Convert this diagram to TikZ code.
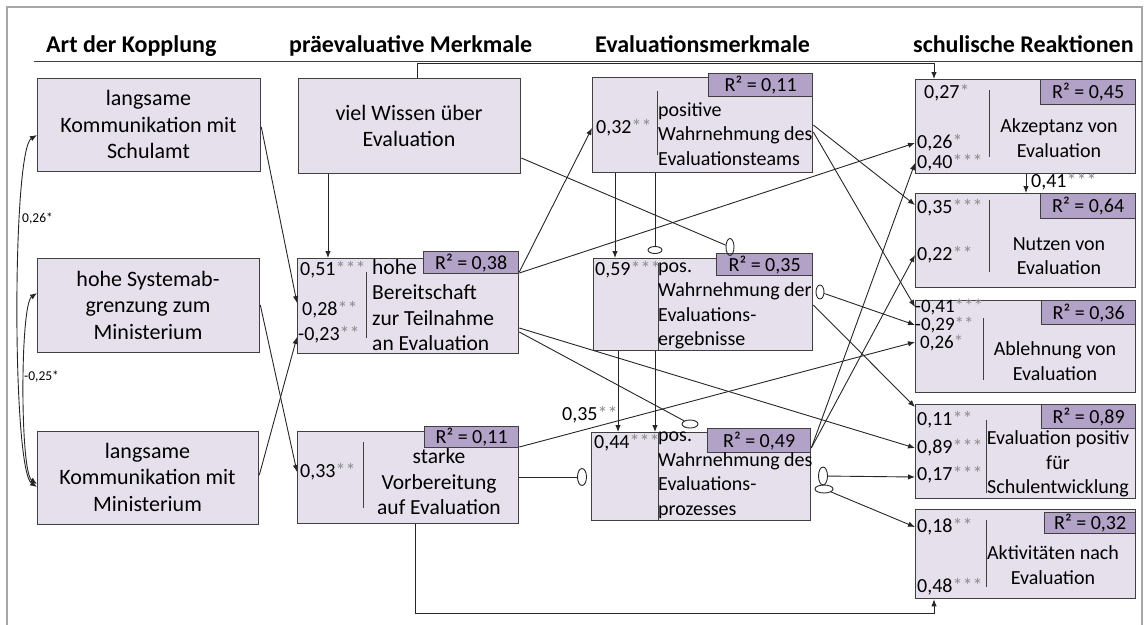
\documentclass[tikz,border=0pt]{standalone}
\usepackage{fontspec}
\setmainfont{Carlito}
\usetikzlibrary{arrows.meta,shapes.geometric}
\definecolor{boxfill}{HTML}{E5E0EC}
\definecolor{rfill}{HTML}{B3A2C7}
\definecolor{boxline}{HTML}{404040}
\definecolor{stargray}{HTML}{8C8C8C}
\definecolor{framegray}{HTML}{A6A6A6}
% coefficient with grey significance stars
\newcommand\coef[2]{#1\textcolor{stargray}{#2}}

\begin{document}
\begin{tikzpicture}[x=1pt,y=-1pt,
  box/.style={draw=boxline, fill=boxfill, line width=1.3pt, inner sep=0pt, anchor=north west},
  rbox/.style={draw=boxline, fill=rfill, line width=1.3pt, inner sep=0pt, anchor=north west,
    font=\fontsize{20}{22}\selectfont},
  head/.style={anchor=base west, inner sep=0pt, font=\bfseries\fontsize{24}{28}\selectfont},
  bigtxt/.style={inner sep=0pt, align=center, font=\fontsize{22}{26.5}\selectfont},
  midtxt/.style={inner sep=0pt, font=\fontsize{21.5}{25.4}\selectfont},
  txt/.style={inner sep=0pt, font=\fontsize{20}{24.5}\selectfont},
  coefs/.style={anchor=west, inner sep=0pt, font=\fontsize{20}{24}\selectfont},
  tight/.style={anchor=west, inner sep=0pt, font=\fontsize{19}{22}\selectfont},
  small/.style={anchor=west, inner sep=0pt, font=\fontsize{13.5}{15}\selectfont},
  divider/.style={draw=boxline, line width=1pt},
  conn/.style={draw=black!85, line width=0.9pt},
  arr/.style={conn, -{Latex[length=7pt,width=5.5pt]}},
  biarr/.style={conn, {Latex[length=7pt,width=5.5pt]}-{Latex[length=7pt,width=5.5pt]}},
  oval/.style={ellipse, draw=black!85, line width=0.9pt, inner sep=0pt}
]
\useasboundingbox (0,0) rectangle (1146,624);

% outer frame and header rule
\draw[framegray, line width=1.5pt] (7,630) -- (7,7) -- (1142,7) -- (1142,630);
\draw[boxline, line width=1pt] (34,61) -- (1142,61);

% column headings
\node[head] (h1) at (46,52) {Art der Kopplung};
\node[head] (h2) at (289,52) {präevaluative Merkmale};
\node[head] (h3) at (595,52) {Evaluationsmerkmale};
\node[head] (h4) at (913,52) {schulische Reaktionen};

% ---- boxes ----
\node[box, minimum width=223pt, minimum height=93pt] (A1) at (37,78) {};
\node[box, minimum width=222pt, minimum height=94pt] (A2) at (37,258) {};
\node[box, minimum width=221pt, minimum height=93pt] (A3) at (37,431) {};
\node[box, minimum width=222pt, minimum height=95pt] (B0) at (298,78) {};
\node[box, minimum width=221pt, minimum height=95pt] (B1) at (297,258) {};
\node[box, minimum width=221pt, minimum height=92pt] (B2) at (297,431) {};
\node[box, minimum width=220pt, minimum height=95pt] (C1) at (592,77) {};
\node[box, minimum width=219pt, minimum height=92pt] (C2) at (593,258) {};
\node[box, minimum width=219pt, minimum height=88pt] (C3) at (591,432) {};
\node[box, minimum width=220pt, minimum height=94pt] (D1) at (915,79) {};
\node[box, minimum width=220pt, minimum height=94pt] (D2) at (915,193) {};
\node[box, minimum width=220pt, minimum height=92pt] (D3) at (915,300) {};
\node[box, minimum width=220pt, minimum height=94pt] (D4) at (915,404) {};
\node[box, minimum width=220pt, minimum height=89pt] (D5) at (915,509) {};

% explained variance tags
\node[rbox, minimum width=95pt, minimum height=22pt] (B1r) at (423,251) {R² = 0,38};
\node[rbox, minimum width=94pt, minimum height=21pt] (B2r) at (424,426) {R² = 0,11};
\node[rbox, minimum width=104pt, minimum height=23pt] (C1r) at (708,73) {R² = 0,11};
\node[rbox, minimum width=96pt, minimum height=22pt] (C2r) at (716,253) {R² = 0,35};
\node[rbox, minimum width=103pt, minimum height=24pt] (C3r) at (707,428) {R² = 0,49};
\node[rbox, minimum width=95pt, minimum height=25pt] (D1r) at (1040,79) {R² = 0,45};
\node[rbox, minimum width=95pt, minimum height=25pt] (D2r) at (1040,193) {R² = 0,64};
\node[rbox, minimum width=94pt, minimum height=24pt] (D3r) at (1041,300) {R² = 0,36};
\node[rbox, minimum width=94pt, minimum height=24pt] (D4r) at (1041,404) {R² = 0,89};
\node[rbox, minimum width=91pt, minimum height=21pt] (D5r) at (1044,512) {R² = 0,32};

% dividers between coefficients and labels
\draw[divider] (366,272) -- (366,338);
\draw[divider] (363,442) -- (363,508);
\draw[divider] (657,91) -- (657,155);
\draw[divider] (658,263) -- (658,350);
\draw[divider] (658,433) -- (658,520);
\draw[divider] (989,90) -- (989,157);
\draw[divider] (989,200) -- (989,272);
\draw[divider] (983,318) -- (983,380);
\draw[divider] (986,420) -- (986,493);
\draw[divider] (986,520) -- (986,587);

% ovals marking interaction terms
\node[oval, minimum width=8pt, minimum height=17pt] (e1) at (730,247) {};
\node[oval, minimum width=14pt, minimum height=7pt] (e2) at (655,250) {};
\node[oval, minimum width=16pt, minimum height=8pt] (e3) at (690,424) {};
\node[oval, minimum width=8pt, minimum height=14pt] (e4) at (820,292) {};
\node[oval, minimum width=9pt, minimum height=17pt] (e5) at (582,477) {};
\node[oval, minimum width=9pt, minimum height=18pt] (e6) at (823,476) {};
\node[oval, minimum width=18pt, minimum height=8pt] (e7) at (824,489) {};

% routing points
\coordinate (k1) at (417,63);
\coordinate (k2) at (934,63);
\coordinate (k3) at (415,613);
\coordinate (k4) at (934,613);

% ---- paths ----
\draw[arr] ([xshift=119pt]B0.north west) -- (k1) -- (k2) -- ([xshift=19pt]D1.north west);
\draw[arr] ([xshift=30pt]B0.south west) -- ([xshift=31pt]B1.north west);
\draw[arr] ([yshift=-49pt]A1.north east) -- ([yshift=-45pt]B1.north west);
\draw[arr] ([yshift=-47pt]A2.north east) -- ([yshift=-41pt]B2.north west);
\draw[arr] ([yshift=-44pt]A3.north east) -- ([yshift=-79pt]B1.north west);
\draw[biarr] ([yshift=-57pt]A1.north west) .. controls (12,150) and (12,470) .. ([yshift=-56pt]A3.north west);
\draw[biarr] ([yshift=-35pt]A2.north west) .. controls (20,305) and (20,472) .. ([yshift=-53pt]A3.north west);

\draw[arr] ([yshift=-14pt]B1.north east) -- ([yshift=-51pt]C1.north west);
\draw[arr] ([yshift=-15pt]B1.north east) -- ([yshift=-64pt]D1.north west);
\draw[arr] ([yshift=-70pt]B1.north east) -- ([yshift=-44pt]D4.north west);
\draw[conn] ([yshift=-74pt]B1.north east) -- (e3);
\draw[conn] ([yshift=-80pt]B0.north east) -- (e1);
\draw[arr] ([yshift=-16pt]B2.north east) -- ([yshift=-42pt]D3.north west);
\draw[conn] ([yshift=-46pt]B2.north east) -- (e5);
\draw[arr] ([xshift=118pt]B2.south west) -- (k3) -- (k4) -- ([xshift=19pt]D5.south west);

\draw[arr] ([xshift=23pt]C1.south west) -- ([xshift=22pt]C2.north west);
\draw[conn] ([xshift=63pt]C1.south west) -- (e2);
\draw[arr] ([xshift=25pt]C2.south west) -- ([xshift=27pt]C3.north west);
\draw[arr] ([xshift=62pt]C2.south west) -- ([xshift=64pt]C3.north west);
\draw[arr] ([yshift=-48pt]C1.north east) -- ([yshift=-12pt]D2.north west);
\draw[arr] ([yshift=-55pt]C1.north east) -- ([yshift=-7pt]D3.north west);
\draw[arr] (e4) -- ([yshift=-25pt]D3.north west);
\draw[arr] ([yshift=-47pt]C2.north east) -- ([yshift=-3pt]D4.north west);
\draw[arr] ([yshift=-16pt]C3.north east) -- ([yshift=-84pt]D1.north west);
\draw[arr] ([yshift=-16pt]C3.north east) -- ([yshift=-62pt]D2.north west);
\draw[arr] (e6) -- ([yshift=-73pt]D4.north west);
\draw[arr] (e7) -- ([yshift=-18pt]D5.north west);
\draw[arr] ([xshift=111pt]D1.south west) -- ([xshift=111pt]D2.north west);

% ---- box labels ----
\node[bigtxt] (A1t) at (148.5,124.5) {langsame\\Kommunikation mit\\Schulamt};
\node[bigtxt] (A2t) at (148,305) {hohe Systemab-\\grenzung zum\\Ministerium};
\node[bigtxt] (A3t) at (147.5,477) {langsame\\Kommunikation mit\\Ministerium};
\node[bigtxt] (B0t) at (409,126) {viel Wissen über\\Evaluation};
\node[midtxt, anchor=west, align=left] (B1t) at (372,305) {hohe\\Bereitschaft\\zur Teilnahme\\an Evaluation};
\node[midtxt, align=center] (B2t) at (439,482) {starke\\Vorbereitung\\auf Evaluation};
\node[txt, anchor=west, align=left] (C1t) at (658,134) {positive\\Wahrnehmung des\\Evaluationsteams};
\node[txt, anchor=west, align=left] (C2t) at (658,306) {pos.\\Wahrnehmung der\\Evaluations-\\ergebnisse};
\node[txt, anchor=west, align=left] (C3t) at (658,475) {pos.\\Wahrnehmung des\\Evaluations-\\prozesses};
\node[txt, align=center] (D1t) at (1059,138) {Akzeptanz von\\Evaluation};
\node[txt, align=center] (D2t) at (1059,256) {Nutzen von\\Evaluation};
\node[txt, align=center] (D3t) at (1055,361) {Ablehnung von\\Evaluation};
\node[txt, align=center] (D4t) at (1058,464) {Evaluation positiv\\für\\Schulentwicklung};
\node[txt, align=center] (D5t) at (1053,565) {Aktivitäten nach\\Evaluation};

% ---- path coefficients ----
\node[coefs] (b1a) at (300,270) {\coef{0,51}{***}};
\node[coefs] (b1b) at (302,310) {\coef{0,28}{**}};
\node[coefs] (b1c) at (298,335) {\coef{-0,23}{**}};
\node[coefs] (b2a) at (300,472) {\coef{0,33}{**}};
\node[coefs] (c1a) at (596,128) {\coef{0,32}{**}};
\node[coefs] (c2a) at (595,270) {\coef{0,59}{***}};
\node[coefs] (c3a) at (594,443) {\coef{0,44}{***}};
\node[coefs] (d1a) at (924,93) {\coef{0,27}{*}};
\node[coefs] (d1b) at (917,143) {\coef{0,26}{*}};
\node[coefs] (d1c) at (917,163) {\coef{0,40}{***}};
\node[coefs] (d2a) at (917,208) {\coef{0,35}{***}};
\node[coefs] (d2b) at (917,255) {\coef{0,22}{**}};
\node[tight] (d3a) at (915,307) {\coef{-0,41}{***}};
\node[tight] (d3b) at (915,325) {\coef{-0,29}{**}};
\node[tight] (d3c) at (920,343) {\coef{0,26}{*}};
\node[coefs] (d4a) at (917,420) {\coef{0,11}{**}};
\node[coefs] (d4b) at (917,448) {\coef{0,89}{***}};
\node[coefs] (d4c) at (917,475) {\coef{0,17}{***}};
\node[coefs] (d5a) at (917,527) {\coef{0,18}{**}};
\node[coefs] (d5b) at (917,587) {\coef{0,48}{***}};
\node[coefs] (d12) at (1031,182) {\coef{0,41}{***}};
\node[coefs] (b2d3) at (562,415) {\coef{0,35}{**}};
\node[small] (r13) at (22,219) {0,26*};
\node[small] (r23) at (24,377) {-0,25*};
\end{tikzpicture}
\end{document}
